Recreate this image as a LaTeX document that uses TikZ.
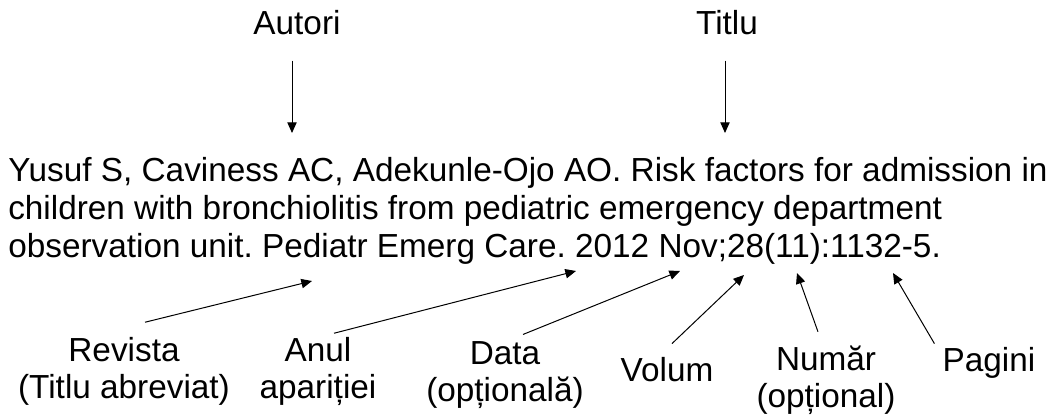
\documentclass[tikz,border=0pt]{standalone}
\usepackage{fontspec}
\setmainfont{Liberation Sans}
\usetikzlibrary{arrows.meta}
\frenchspacing
\begin{document}
\begin{tikzpicture}[x=0.75pt, y=0.75pt,
    lbl/.style={inner sep=0pt, anchor=base, align=center, font=\fontsize{25}{28}\selectfont},
    pointer/.style={-{Triangle[length=8pt,width=7pt]}, line width=0.75pt}]
    \useasboundingbox (0,0) rectangle (1060,417);

    % what is pointed at from above
    \node[lbl] (autori) at (297,382) {Autori};
    \node[lbl] (titlu) at (727,382) {Titlu};

    % base = last line of the citation
    \node[inner sep=0pt, anchor=base west, align=left, font=\fontsize{25}{28.5}\selectfont] (cit) at (8,159)
        {Yusuf S, Caviness AC, Adekunle-Ojo AO. Risk factors for admission in\\
         children with bronchiolitis from pediatric emergency department\\
         observation unit. Pediatr Emerg Care. 2012 Nov;28(11):1132-5.};

    % what is pointed at from below
    \node[lbl] (revista) at (124,18) {Revista\\(Titlu abreviat)};
    \node[lbl] (anul) at (318,18) {Anul\\apariției};
    \node[lbl] (data) at (505,15) {Data\\(opțională)};
    \node[lbl] (volum) at (667,35) {Volum};
    \node[lbl] (numar) at (826,9) {Număr\\(opțional)};
    \node[lbl] (pagini) at (989,45) {Pagini};

    \coordinate (pAutori) at (292,284);
    \coordinate (pTitlu) at (725,284);
    \coordinate (pRevista) at (312,136);
    \coordinate (pAnul) at (576,146);
    \coordinate (pData) at (680,146);
    \coordinate (pVolum) at (744,142);
    \coordinate (pNumar) at (797,144);
    \coordinate (pPagini) at (893,144);

    \draw[pointer] ([shift={(-5,-25)}]autori.south) -- (pAutori);
    \draw[pointer] ([shift={(-2,-25)}]titlu.south) -- (pTitlu);

    \draw[pointer] ([shift={(21,15)}]revista.north) -- (pRevista);
    \draw[pointer] ([shift={(16,4)}]anul.north) -- (pAnul);
    \draw[pointer] ([shift={(18,7)}]data.north) -- (pData);
    \draw[pointer] ([shift={(5,14)}]volum.north) -- (pVolum);
    \draw[pointer] ([shift={(-8,14)}]numar.north) -- (pNumar);
    \draw[pointer] ([shift={(-8,4)}]pagini.north west) -- (pPagini);

\end{tikzpicture}
\end{document}
